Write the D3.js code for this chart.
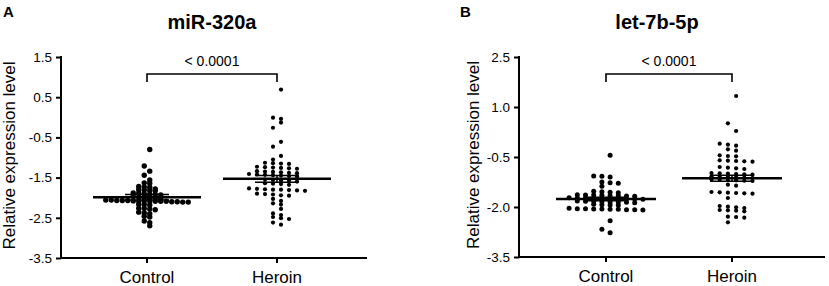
<!DOCTYPE html>
<html><head><meta charset="utf-8">
<script src="https://cdn.jsdelivr.net/npm/d3@7"></script>
<style>
html,body{margin:0;padding:0;background:#fff;}
svg{display:block;font-family:"Liberation Sans",Arial,sans-serif;}
</style></head>
<body>
<svg id="chart" width="829" height="286"></svg>
<script>
// ---------------- DATA ----------------
const categories = ["Control", "Heroin"];
const panelLetters = ["A", "B"];
const titles = ["miR-320a", "let-7b-5p"];
const yLabel = "Relative expression level";
const pLabel = "< 0.0001";

const aTicks = [1.5, 0.5, -0.5, -1.5, -2.5, -3.5];
const aControl = [-0.80, -1.21, -1.34, -1.44, -1.56, -1.63, -1.64, -1.72, -1.73, -1.74,
  -1.78, -1.80, -1.81, -1.82, -1.83, -1.88, -1.89, -1.90, -1.91, -1.92, -1.93,
  -1.97, -1.98, -1.99, -2.00, -2.01, -2.02,
  -2.06, -2.06, -2.07, -2.07, -2.07, -2.08, -2.08, -2.08, -2.08, -2.09, -2.09, -2.09, -2.10, -2.10, -2.11, -2.11,
  -2.16, -2.17, -2.18, -2.26, -2.27, -2.28, -2.30, -2.36, -2.38, -2.40, -2.46, -2.48, -2.58, -2.62, -2.70];
const aHeroin = [0.69, -0.01, -0.04, -0.13, -0.26, -0.61, -0.73, -0.96, -1.05,
  -1.13, -1.14, -1.15, -1.16,
  -1.23, -1.24, -1.25, -1.26, -1.27, -1.28,
  -1.34, -1.35, -1.36, -1.37, -1.38, -1.39,
  -1.41, -1.42, -1.43, -1.44, -1.45, -1.46, -1.47,
  -1.55, -1.56, -1.57, -1.58, -1.60,
  -1.64, -1.65, -1.66, -1.68,
  -1.77, -1.78, -1.79, -1.80, -1.80, -1.81, -1.82, -1.83,
  -1.90, -1.91, -1.92, -1.94, -1.95,
  -2.03, -2.08, -2.14, -2.17, -2.28, -2.39, -2.43, -2.48, -2.51, -2.53, -2.62, -2.67];
const aMeans = [-1.99, -1.53];
const aSem = [0.07, 0.085];

const bTicks = [2.5, 1.0, -0.5, -2.0, -3.5];
const bControl = [-0.45, -1.07, -1.08, -1.10, -1.25, -1.27, -1.29, -1.38,
  -1.53, -1.54, -1.56, -1.57,
  -1.63, -1.64, -1.64, -1.65, -1.66, -1.66, -1.67, -1.68,
  -1.72, -1.73, -1.73, -1.74, -1.74, -1.75, -1.75, -1.76, -1.76, -1.77,
  -1.82, -1.83, -1.83, -1.84, -1.85, -1.85, -1.86, -1.87,
  -1.92, -1.93, -1.94, -1.95,
  -2.04, -2.05, -2.05, -2.06, -2.06, -2.07, -2.07, -2.08, -2.08, -2.09,
  -2.41, -2.67, -2.77];
const bHeroin = [1.33, 0.51, 0.28, -0.10, -0.13, -0.16, -0.27, -0.31, -0.45, -0.47, -0.48,
  -0.60, -0.61, -0.62, -0.63, -0.64, -0.80, -0.82, -0.84, -0.86,
  -0.98, -0.99, -1.00, -1.01, -1.02, -1.03,
  -1.08, -1.09, -1.10, -1.11, -1.12, -1.13,
  -1.17, -1.18, -1.19, -1.20, -1.21, -1.22,
  -1.33, -1.36, -1.55, -1.56, -1.57, -1.58, -1.59, -1.60, -1.73,
  -1.97, -1.99, -2.01, -2.03, -2.09, -2.10, -2.11, -2.13, -2.29, -2.30, -2.32, -2.46];
const bMeans = [-1.76, -1.14];
const bSem = [0.05, 0.09];

// ---------------- LAYOUT ----------------
const svg = d3.select("#chart");
const fontFam = '"Liberation Sans", Arial, sans-serif';

const panels = [
  {letter: panelLetters[0], title: titles[0], ticks: aTicks, groups: [aControl, aHeroin], means: aMeans, sem: aSem,
   x0: 61, x1: 367, top: 57, bottom: 258, cats: [147, 277], letterX: 3, ylabX: 15, titleX: 212,
   spacing: [5.5, 8], radius: [2.7, 2.1], halfMean: 54, halfSem: 22, thr: 0.065},
  {letter: panelLetters[1], title: titles[1], ticks: bTicks, groups: [bControl, bHeroin], means: bMeans, sem: bSem,
   x0: 519, x1: 825, top: 57, bottom: 257, cats: [606, 732], letterX: 460, ylabX: 479, titleX: 657,
   spacing: [8.2, 8.2], radius: [2.5, 2.1], halfMean: 50, halfSem: 22, thr: 0.065}
];

function swarm(values, y, cx, spacing, thr) {
  const sorted = values.slice().sort((a, b) => b - a);
  const rows = [];
  let cur = null;
  for (const v of sorted) {
    if (cur && cur.start - v <= thr) cur.vals.push(v);
    else { cur = {start: v, vals: [v]}; rows.push(cur); }
  }
  const pts = [];
  rows.forEach((r, ri) => {
    const n = r.vals.length;
    const shift = (n % 2 === 1) ? ((ri % 2 === 0) ? spacing / 2 : -spacing / 2) : 0;
    r.vals.forEach((v, i) => {
      pts.push({x: cx + (i - (n - 1) / 2) * spacing + shift, y: y(v)});
    });
  });
  return pts;
}

panels.forEach(p => {
  const y = d3.scaleLinear().domain([p.ticks[p.ticks.length - 1], p.ticks[0]]).range([p.bottom, p.top]);
  const x = d3.scaleOrdinal().domain(categories).range(p.cats);
  const g = svg.append("g");

  // panel letter
  g.append("text").attr("x", p.letterX).attr("y", 17).attr("font-size", 15).attr("font-weight", "bold")
    .attr("font-family", fontFam).text(p.letter);
  // title
  g.append("text").attr("x", p.titleX).attr("y", 29).attr("text-anchor", "middle").attr("font-size", 20)
    .attr("font-weight", "bold").attr("font-family", fontFam).text(p.title);

  // y axis
  const yAxis = d3.axisLeft(y).tickValues(p.ticks).tickSize(5).tickPadding(4).tickFormat(d => d.toFixed(1));
  const ya = g.append("g").attr("transform", `translate(${p.x0},0)`).call(yAxis);
  ya.select(".domain").remove();
  ya.selectAll(".tick line").attr("stroke", "#000").attr("stroke-width", 2);
  ya.selectAll(".tick text").attr("font-size", 13.5).attr("font-family", fontFam).attr("fill", "#000");
  g.append("line").attr("x1", p.x0).attr("x2", p.x0).attr("y1", p.top - 1).attr("y2", p.bottom + 1)
    .attr("stroke", "#000").attr("stroke-width", 2);

  // x axis
  g.append("line").attr("x1", p.x0 - 1).attr("x2", p.x1).attr("y1", p.bottom).attr("y2", p.bottom)
    .attr("stroke", "#000").attr("stroke-width", 2);
  categories.forEach(c => {
    g.append("line").attr("x1", x(c)).attr("x2", x(c)).attr("y1", p.bottom).attr("y2", p.bottom + 5)
      .attr("stroke", "#000").attr("stroke-width", 2);
    g.append("text").attr("x", x(c)).attr("y", p.bottom + 25).attr("text-anchor", "middle")
      .attr("font-size", 17).attr("font-family", fontFam).text(c);
  });

  // y label
  g.append("text").attr("transform", `translate(${p.ylabX},${(p.top + p.bottom) / 2 - 2}) rotate(-90)`)
    .attr("text-anchor", "middle").attr("font-size", 17).attr("font-family", fontFam).text(yLabel);

  // significance bracket
  const bx1 = x(categories[0]), bx2 = x(categories[1]);
  g.append("path").attr("d", `M${bx1},${p.top + 25}V${p.top + 17}H${bx2}V${p.top + 25}`)
    .attr("fill", "none").attr("stroke", "#000").attr("stroke-width", 1.6);
  g.append("text").attr("x", (bx1 + bx2) / 2).attr("y", p.top + 9).attr("text-anchor", "middle")
    .attr("font-size", 14).attr("font-family", fontFam).text(pLabel);

  // points
  p.groups.forEach((vals, gi) => {
    const pts = swarm(vals, y, x(categories[gi]), p.spacing[gi], p.thr);
    g.append("g").selectAll("circle").data(pts).join("circle")
      .attr("cx", d => d.x).attr("cy", d => d.y).attr("r", p.radius[gi]).attr("fill", "#000");
  });

  // mean and SEM
  categories.forEach((c, gi) => {
    const cx = x(c), m = p.means[gi], s = p.sem[gi];
    g.append("line").attr("x1", cx - p.halfMean).attr("x2", cx + p.halfMean)
      .attr("y1", y(m)).attr("y2", y(m)).attr("stroke", "#000").attr("stroke-width", 2.5);
    g.append("line").attr("x1", cx).attr("x2", cx).attr("y1", y(m + s)).attr("y2", y(m - s))
      .attr("stroke", "#000").attr("stroke-width", 1.5);
    [m + s, m - s].forEach(v => {
      g.append("line").attr("x1", cx - p.halfSem).attr("x2", cx + p.halfSem)
        .attr("y1", y(v)).attr("y2", y(v)).attr("stroke", "#000").attr("stroke-width", 1.5);
    });
  });
});
</script>
</body></html>
